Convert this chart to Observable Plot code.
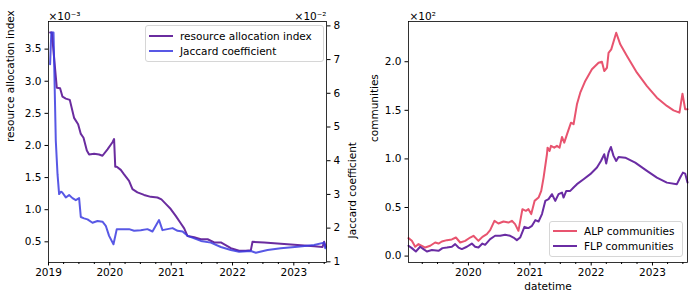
<!DOCTYPE html>
<html>
<head>
<meta charset="utf-8">
<script src="https://cdn.jsdelivr.net/npm/d3@7"></script>
<script src="https://cdn.jsdelivr.net/npm/@observablehq/plot@0.6"></script>
<style>
  body { margin: 0; background: #fff; font-family: "DejaVu Sans", sans-serif; }
  #wrap { position: relative; width: 695px; height: 303px; overflow: hidden; background: #fff; }
  #wrap svg { position: absolute; left: 0; top: 0; }
  .legend { position: absolute; border: 1px solid #d6d6d6; border-radius: 3px; background: rgba(255,255,255,0.85); font-family: "DejaVu Sans", sans-serif; font-size: 10.5px; color: #000; }
  .sw { position: absolute; height: 2px; }
  .lab { position: absolute; white-space: nowrap; line-height: 14px; }
</style>
</head>
<body>
<div id="wrap"></div>
<script>
// ---- data (decimal years, values in displayed axis units) ----
const raYears = [2019.026, 2019.054, 2019.135, 2019.189, 2019.228, 2019.282, 2019.347, 2019.417, 2019.483, 2019.527, 2019.571, 2019.625, 2019.662, 2019.744, 2019.825, 2019.880, 2019.962, 2020.044, 2020.070, 2020.089, 2020.114, 2020.179, 2020.233, 2020.314, 2020.370, 2020.451, 2020.559, 2020.668, 2020.777, 2020.842, 2020.913, 2020.994, 2021.076, 2021.146, 2021.211, 2021.266, 2021.374, 2021.483, 2021.593, 2021.700, 2021.809, 2021.972, 2022.108, 2022.217, 2022.299, 2022.326, 2022.515, 2022.787, 2023.060, 2023.331, 2023.468, 2023.494, 2023.522];
const raValues = [3.76, 3.76, 2.90, 2.89, 2.76, 2.73, 2.71, 2.43, 2.33, 2.18, 2.12, 1.92, 1.86, 1.87, 1.86, 1.84, 1.94, 2.05, 2.10, 1.67, 1.67, 1.62, 1.55, 1.45, 1.32, 1.27, 1.23, 1.20, 1.19, 1.16, 1.09, 1.01, 0.90, 0.80, 0.71, 0.59, 0.57, 0.54, 0.54, 0.49, 0.49, 0.40, 0.36, 0.36, 0.37, 0.50, 0.49, 0.47, 0.45, 0.43, 0.42, 0.50, 0.42];

const jacYears = [2019.026, 2019.046, 2019.082, 2019.119, 2019.147, 2019.173, 2019.201, 2019.228, 2019.282, 2019.336, 2019.391, 2019.445, 2019.499, 2019.527, 2019.580, 2019.636, 2019.717, 2019.799, 2019.880, 2019.934, 2019.988, 2020.060, 2020.114, 2020.207, 2020.314, 2020.396, 2020.505, 2020.614, 2020.696, 2020.803, 2020.859, 2020.940, 2021.022, 2021.103, 2021.185, 2021.266, 2021.483, 2021.646, 2021.809, 2021.972, 2022.108, 2022.299, 2022.380, 2022.571, 2022.787, 2023.060, 2023.331, 2023.494, 2023.513];
const jacValues = [6.86, 7.80, 7.80, 4.59, 3.60, 3.01, 3.08, 3.05, 2.91, 2.98, 2.89, 2.83, 2.89, 2.33, 2.29, 2.26, 2.16, 2.21, 2.19, 2.07, 1.77, 1.52, 1.97, 1.97, 1.97, 1.92, 1.94, 1.97, 1.90, 2.24, 1.94, 1.97, 2.00, 1.92, 1.90, 1.77, 1.62, 1.57, 1.44, 1.35, 1.30, 1.32, 1.27, 1.35, 1.40, 1.45, 1.50, 1.57, 1.40];

const alpYears = [2019.022, 2019.077, 2019.131, 2019.185, 2019.240, 2019.294, 2019.376, 2019.457, 2019.511, 2019.566, 2019.648, 2019.729, 2019.795, 2019.865, 2019.946, 2020.028, 2020.082, 2020.163, 2020.228, 2020.300, 2020.354, 2020.424, 2020.489, 2020.571, 2020.652, 2020.708, 2020.761, 2020.815, 2020.880, 2020.936, 2020.978, 2021.022, 2021.076, 2021.141, 2021.185, 2021.223, 2021.278, 2021.288, 2021.321, 2021.344, 2021.397, 2021.441, 2021.484, 2021.523, 2021.560, 2021.614, 2021.670, 2021.712, 2021.767, 2021.821, 2021.903, 2022.012, 2022.120, 2022.175, 2022.213, 2022.257, 2022.283, 2022.327, 2022.408, 2022.474, 2022.583, 2022.746, 2022.909, 2023.072, 2023.235, 2023.343, 2023.440, 2023.489, 2023.533, 2023.571];
const alpValues = [18.5, 15.7, 9.6, 12.3, 10.6, 8.8, 10.6, 14.0, 12.9, 15.0, 16.4, 17.1, 19.1, 14.0, 15.7, 19.1, 20.9, 15.7, 19.8, 22.6, 26.7, 36.3, 33.5, 35.6, 34.5, 36.3, 32.9, 26.0, 48.3, 46.6, 48.3, 43.2, 56.8, 60.2, 67.1, 80.8, 104.8, 111.6, 108.2, 113.4, 111.6, 113.4, 111.6, 122.6, 116.7, 127.0, 137.3, 135.7, 156.2, 168.1, 180.2, 192.2, 199.0, 200.0, 190.4, 193.8, 209.2, 212.7, 229.8, 217.9, 205.9, 188.7, 175.0, 163.0, 154.5, 150.0, 147.6, 167.1, 151.1, 151.1];

const flpYears = [2019.022, 2019.077, 2019.142, 2019.212, 2019.266, 2019.322, 2019.403, 2019.511, 2019.576, 2019.648, 2019.729, 2019.783, 2019.837, 2019.892, 2019.974, 2020.055, 2020.109, 2020.163, 2020.228, 2020.272, 2020.354, 2020.435, 2020.517, 2020.598, 2020.680, 2020.734, 2020.789, 2020.843, 2020.913, 2020.978, 2021.034, 2021.088, 2021.141, 2021.197, 2021.251, 2021.304, 2021.360, 2021.414, 2021.467, 2021.523, 2021.549, 2021.593, 2021.658, 2021.712, 2021.767, 2021.875, 2021.984, 2022.094, 2022.159, 2022.213, 2022.245, 2022.283, 2022.322, 2022.364, 2022.408, 2022.446, 2022.555, 2022.718, 2022.909, 2023.072, 2023.235, 2023.398, 2023.452, 2023.496, 2023.533, 2023.571];
const flpValues = [10.6, 8.2, 4.7, 9.6, 7.2, 4.7, 6.2, 5.4, 8.2, 8.8, 9.6, 12.3, 8.8, 7.2, 9.6, 12.9, 9.6, 8.8, 12.9, 11.6, 17.5, 20.9, 20.9, 21.9, 20.9, 19.1, 16.4, 19.1, 30.1, 28.8, 31.1, 37.0, 35.6, 43.2, 56.8, 58.6, 63.7, 56.8, 63.7, 65.4, 60.2, 67.1, 67.1, 70.5, 74.0, 79.1, 84.3, 91.1, 97.9, 104.8, 95.2, 106.5, 112.3, 103.1, 97.9, 102.0, 101.3, 96.2, 87.7, 80.8, 75.6, 74.0, 80.8, 85.9, 84.9, 75.6];

const raTicks = [0.5, 1.0, 1.5, 2.0, 2.5, 3.0, 3.5];
const jacTicks = [1, 2, 3, 4, 5, 6, 7, 8];
const commTicks = [0, 50, 100, 150, 200];
const leftYearTicks = [2019, 2020, 2021, 2022, 2023];
const rightYearTicks = [2020, 2021, 2022, 2023];

const labels = {
  ra: "resource allocation index", jac: "Jaccard coefficient",
  comm: "communities", x: "datetime",
  alp: "ALP communities", flp: "FLP communities",
  raOff: "×10⁻³", jacOff: "×10⁻²", commOff: "×10²"
};
const colors = { ra: "#6a2c9f", jac: "#3b3be0", alp: "#e8546f", flp: "#6a2ca3" };

// ---- helpers ----
function yr(t) { const y = Math.floor(t); return new Date(Date.UTC(y, 0, 1) + (t - y) * 365.25 * 864e5); }
function series(years, values) { return years.map((t, i) => ({ date: yr(t), v: values[i] })); }
function quarterTicks(y0, y1) { const out = []; for (let y = y0; y <= y1; y++) for (const m of [3, 6, 9]) out.push(new Date(Date.UTC(y, m, 1))); return out; }

const W = 695, H = 303;
const font = { fontFamily: "DejaVu Sans, sans-serif", fontSize: "10.5px", background: "transparent", overflow: "visible", color: "#000" };
const wrap = document.getElementById("wrap");

// left panel geometry
const L = { marginLeft: 48, marginRight: W - 326, marginTop: 21, marginBottom: H - 262 };
const leftDomain = [yr(2019.0), yr(2023.533)];

const raPlot = Plot.plot({
  width: W, height: H, ...L, style: font,
  x: { type: "utc", domain: leftDomain }, y: { domain: [0.178, 3.93] },
  marks: [
    Plot.axisY({ ticks: raTicks, tickSize: 3.5, tickPadding: 3.5, tickFormat: d => d.toFixed(1), label: null }),
    Plot.axisX({ ticks: leftYearTicks.map(y => yr(y)), tickFormat: d3.utcFormat("%Y"), tickSize: 3.5, tickPadding: 3, label: null }),
    Plot.axisX({ ticks: quarterTicks(2019, 2023).filter(d => d < leftDomain[1]), tickFormat: () => "", tickSize: 2, label: null }),
    Plot.line(series(raYears, raValues), { x: "date", y: "v", stroke: colors.ra, strokeWidth: 2, strokeLinejoin: "round" }),
    Plot.text([labels.ra], { frameAnchor: "left", dx: -38, rotate: -90, text: d => d, fontSize: 10.5 }),
    Plot.text([labels.raOff], { frameAnchor: "top-left", dy: -9, textAnchor: "start", text: d => d, fontSize: 10.5 })
  ]
});
wrap.appendChild(raPlot);

const jacPlot = Plot.plot({
  width: W, height: H, ...L, style: font,
  x: { type: "utc", domain: leftDomain, axis: null }, y: { domain: [0.98, 8.13] },
  marks: [
    Plot.axisY({ anchor: "right", ticks: jacTicks, tickSize: 3.5, tickPadding: 3.5, tickFormat: d => String(d), label: null }),
    Plot.line(series(jacYears, jacValues), { x: "date", y: "v", stroke: colors.jac, strokeOpacity: 0.85, strokeWidth: 2, strokeLinejoin: "round" }),
    Plot.frame({ stroke: "#000", strokeWidth: 0.8 }),
    Plot.text([labels.jac], { frameAnchor: "right", dx: 26, rotate: -90, text: d => d, fontSize: 10.5 }),
    Plot.text([labels.jacOff], { frameAnchor: "top-right", dy: -9, textAnchor: "end", text: d => d, fontSize: 10.5 })
  ]
});
wrap.appendChild(jacPlot);

// right panel
const R = { marginLeft: 408, marginRight: W - 687, marginTop: 21, marginBottom: H - 262 };
const rightDomain = [yr(2019.022), yr(2023.571)];
const commPlot = Plot.plot({
  width: W, height: H, ...R, style: font,
  x: { type: "utc", domain: rightDomain },
  y: { domain: [-6.6, 241.4] },
  marks: [
    Plot.axisY({ ticks: commTicks, tickSize: 3.5, tickPadding: 3.5, tickFormat: d => (d / 100).toFixed(1), label: null }),
    Plot.axisX({ ticks: rightYearTicks.map(y => yr(y)), tickFormat: d3.utcFormat("%Y"), tickSize: 3.5, tickPadding: 3, label: null }),
    Plot.axisX({ ticks: quarterTicks(2019, 2023).filter(d => d < rightDomain[1]), tickFormat: () => "", tickSize: 2, label: null }),
    Plot.line(series(alpYears, alpValues), { x: "date", y: "v", stroke: colors.alp, strokeWidth: 2, strokeLinejoin: "round" }),
    Plot.line(series(flpYears, flpValues), { x: "date", y: "v", stroke: colors.flp, strokeWidth: 2, strokeLinejoin: "round" }),
    Plot.frame({ stroke: "#000", strokeWidth: 0.8 }),
    Plot.text([labels.comm], { frameAnchor: "left", dx: -34, rotate: -90, text: d => d, fontSize: 10.5 }),
    Plot.text([labels.x], { frameAnchor: "bottom", dy: 27, text: d => d, fontSize: 10.5 }),
    Plot.text([labels.commOff], { frameAnchor: "top-left", dy: -9, dx: 1, textAnchor: "start", text: d => d, fontSize: 10.5 })
  ]
});
wrap.appendChild(commPlot);

// legends
function legend(box, items) {
  const el = document.createElement("div");
  el.className = "legend";
  el.style.left = box.x + "px"; el.style.top = box.y + "px";
  el.style.width = box.w + "px"; el.style.height = box.h + "px";
  items.forEach((it, i) => {
    const y = box.rows[i] - box.y - 1;
    const sw = document.createElement("div");
    sw.className = "sw";
    sw.style.left = "3px"; sw.style.width = "24px"; sw.style.top = (y - 1) + "px";
    sw.style.background = it.color; sw.style.opacity = it.opacity || 1;
    const lb = document.createElement("div");
    lb.className = "lab";
    lb.style.left = "34px"; lb.style.top = (y - 7) + "px";
    lb.textContent = it.label;
    el.appendChild(sw); el.appendChild(lb);
  });
  wrap.appendChild(el);
}
legend({ x: 145, y: 25, w: 177, h: 35, rows: [35.5, 50.5] }, [
  { label: labels.ra, color: colors.ra },
  { label: labels.jac, color: colors.jac, opacity: 0.85 }
]);
legend({ x: 549, y: 221, w: 132, h: 34, rows: [230.5, 245.5] }, [
  { label: labels.alp, color: colors.alp },
  { label: labels.flp, color: colors.flp }
]);
</script>
</body>
</html>
